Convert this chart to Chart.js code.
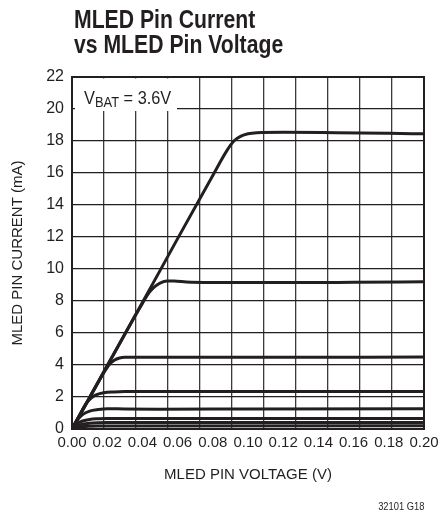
<!DOCTYPE html>
<html>
<head>
<meta charset="utf-8">
<script src="https://cdn.jsdelivr.net/npm/chart.js@4.4.0/dist/chart.umd.min.js"></script>
<style>
  body { margin: 0; background: #fff; }
  #wrap { position: relative; width: 445px; height: 518px; }
  #titulo {
    position: absolute; left: 74px; top: 7px;
    font-family: 'Liberation Sans', Arial, sans-serif;
    font-weight: bold; font-size: 26px; line-height: 25px; color: #231f20;
    transform: scaleX(0.815); transform-origin: left top; white-space: nowrap;
  }
  #nota {
    position: absolute; right: 21px; top: 500px;
    font-family: 'Liberation Sans', Arial, sans-serif;
    font-size: 11px; color: #231f20;
    transform: scaleX(0.85); transform-origin: right top; white-space: nowrap;
  }
  canvas { position: absolute; left: 0; top: 0; }
</style>
</head>
<body>
<div id="wrap">
  <canvas id="grafico" width="445" height="518"></canvas>
  <div id="titulo">MLED Pin Current<br>vs MLED Pin Voltage</div>
  <div id="nota">32101 G18</div>
</div>
<script>
// valores (V, mA)
var x185 = [0, 0.02, 0.04, 0.06, 0.08, 0.088, 0.092, 0.096, 0.1, 0.105, 0.12, 0.15, 0.18, 0.2];
var y185 = [0, 3.95, 7.9, 11.9, 15.85, 17.4, 18.0, 18.3, 18.45, 18.52, 18.55, 18.52, 18.48, 18.45];

var x92 = [0, 0.02, 0.035, 0.04, 0.044, 0.047, 0.05, 0.054, 0.058, 0.065, 0.08, 0.12, 0.16, 0.2];
var y92 = [0, 3.95, 6.9, 7.85, 8.55, 8.9, 9.12, 9.25, 9.25, 9.18, 9.15, 9.15, 9.17, 9.2];

var x45 = [0, 0.01, 0.018, 0.021, 0.024, 0.027, 0.03, 0.04, 0.1, 0.2];
var y45 = [0, 1.95, 3.5, 4.0, 4.3, 4.44, 4.48, 4.48, 4.48, 4.5];

var x23 = [0, 0.004, 0.008, 0.011, 0.014, 0.018, 0.024, 0.03, 0.1, 0.2];
var y23 = [0, 0.8, 1.58, 1.95, 2.15, 2.27, 2.32, 2.34, 2.35, 2.35];

var x12 = [0, 0.003, 0.006, 0.01, 0.015, 0.02, 0.03, 0.05, 0.1, 0.2];
var y12 = [0, 0.55, 0.9, 1.12, 1.22, 1.27, 1.25, 1.24, 1.25, 1.26];

var x06 = [0, 0.003, 0.006, 0.01, 0.015, 0.02, 0.03, 0.1, 0.2];
var y06 = [0, 0.35, 0.5, 0.6, 0.64, 0.66, 0.66, 0.66, 0.66];

var x04 = [0, 0.003, 0.006, 0.01, 0.015, 0.02, 0.2];
var y04 = [0, 0.2, 0.3, 0.36, 0.39, 0.4, 0.4];

var x02 = [0, 0.003, 0.006, 0.01, 0.015, 0.2];
var y02 = [0, 0.09, 0.14, 0.17, 0.19, 0.2];

var xTicks = [0, 0.02, 0.04, 0.06, 0.08, 0.1, 0.12, 0.14, 0.16, 0.18, 0.2];
var yTicks = [0, 2, 4, 6, 8, 10, 12, 14, 16, 18, 20, 22];

var fonte = "'Liberation Sans', Arial, sans-serif";
var preto = '#231f20';

function pontos(xs, ys) {
    var p = [];
    for (var i = 0; i < xs.length; i++) {
        p.push({ x: xs[i], y: ys[i] });
    }
    return p;
}

function curva(xs, ys) {
    return {
        data: pontos(xs, ys),
        borderColor: preto,
        borderWidth: 3,
        pointRadius: 0,
        fill: false,
        cubicInterpolationMode: 'monotone',
        xAxisID: 'x',
        yAxisID: 'y'
    };
}

// caixa com V_BAT = 3.6V (texto estreitado como no original)
var caixaVbat = {
    id: 'caixaVbat',
    beforeDatasetsDraw: function (chart) {
        var ctx = chart.ctx;
        ctx.save();
        ctx.fillStyle = '#fff';
        ctx.fillRect(75, 78.5, 102, 32.5);
        ctx.fillStyle = preto;
        ctx.textBaseline = 'alphabetic';
        ctx.translate(84, 0);
        ctx.scale(0.86, 1);
        ctx.font = '19px ' + fonte;
        ctx.fillText('V', 0, 104);
        var w = ctx.measureText('V').width;
        ctx.font = '15px ' + fonte;
        ctx.fillText('BAT', w, 107);
        var w2 = ctx.measureText('BAT').width;
        ctx.font = '19px ' + fonte;
        ctx.fillText(' = 3.6V', w + w2, 104);
        ctx.restore();
    }
};

var ctx = document.getElementById('grafico').getContext('2d');

var grafico = new Chart(ctx, {
    type: 'line',
    data: {
        datasets: [
            curva(x185, y185),
            curva(x92, y92),
            curva(x45, y45),
            curva(x23, y23),
            curva(x12, y12),
            curva(x06, y06),
            curva(x04, y04),
            curva(x02, y02)
        ]
    },
    options: {
        responsive: false,
        animation: false,
        layout: { padding: { left: 0, right: 21, top: 77, bottom: 34 } },
        plugins: { legend: { display: false }, tooltip: { enabled: false } },
        scales: {
            x: {
                type: 'linear',
                position: 'bottom',
                weight: 1,
                min: 0,
                max: 0.2,
                afterBuildTicks: function (axis) {
                    axis.ticks = xTicks.map(function (v) { return { value: v }; });
                },
                afterFit: function (axis) { axis.height = 55; },
                grid: { display: false, drawTicks: false },
                border: { display: false },
                ticks: {
                    autoSkip: false,
                    maxRotation: 0,
                    padding: 5,
                    color: preto,
                    font: { family: fonte, size: 15 },
                    callback: function (v) { return v.toFixed(2); }
                },
                title: {
                    display: true,
                    text: 'MLED PIN VOLTAGE (V)',
                    color: preto,
                    font: { family: fonte, size: 15 },
                    padding: { top: 0, bottom: 0 }
                }
            },
            // grade vertical do original: 11 divisoes
            xg: {
                type: 'linear',
                position: 'bottom',
                weight: 0,
                min: 0,
                max: 11,
                ticks: { display: false, stepSize: 1 },
                afterFit: function (axis) { axis.height = 0; },
                grid: { color: '#3a3a3a', lineWidth: 1.3, drawTicks: false },
                border: { color: preto, width: 2 }
            },
            y: {
                type: 'linear',
                min: 0,
                max: 22,
                afterBuildTicks: function (axis) {
                    axis.ticks = yTicks.map(function (v) { return { value: v }; });
                },
                afterFit: function (axis) { axis.width = 72; },
                grid: { color: preto, lineWidth: 1.3, drawTicks: false },
                border: { color: preto, width: 2 },
                ticks: {
                    padding: 8,
                    color: preto,
                    font: { family: fonte, size: 16 }
                },
                title: {
                    display: true,
                    text: 'MLED PIN CURRENT (mA)',
                    color: preto,
                    font: { family: fonte, size: 15 },
                    padding: { top: 9, bottom: 0 }
                }
            },
            y2: {
                type: 'linear',
                position: 'right',
                min: 0,
                max: 22,
                ticks: { display: false },
                afterFit: function (axis) { axis.width = 0; },
                grid: { display: false, drawTicks: false },
                border: { color: preto, width: 2 }
            },
            x2: {
                type: 'linear',
                position: 'top',
                min: 0,
                max: 1,
                ticks: { display: false },
                afterFit: function (axis) { axis.height = 0; },
                grid: { display: false, drawTicks: false },
                border: { color: preto, width: 2 }
            }
        }
    },
    plugins: [caixaVbat]
});
</script>
</body>
</html>
